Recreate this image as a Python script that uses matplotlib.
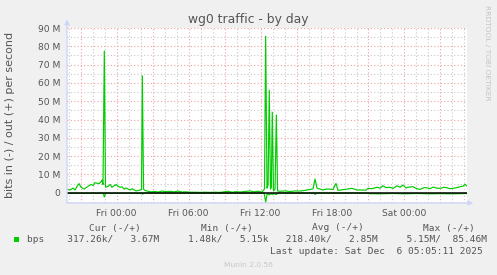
import matplotlib
matplotlib.use("Agg")
import matplotlib.pyplot as plt
from matplotlib.ticker import MultipleLocator, FuncFormatter

# ---- data (hours relative to Fri 00:00, values in Mbit/s) ----
out_hours = [-4.13, -3.88, -3.63, -3.46, -3.29, -3.13, -2.96, -2.71, -2.54, -2.38,
             -2.13, -1.96, -1.79, -1.63, -1.46, -1.29, -1.21, -1.13, -1.02, -0.92,
             -0.71, -0.54, -0.38, -0.21, -0.04, 0.13, 0.29, 0.46, 0.63, 0.79,
             0.96, 1.13, 1.29, 1.46, 1.63, 1.79, 1.96, 2.08, 2.15, 2.25,
             2.38, 2.63, 2.88, 3.21, 3.46, 3.79, 4.13, 4.46, 4.79, 5.13,
             5.46, 5.79, 6.13, 6.54, 6.96, 7.38, 7.79, 8.21, 8.63, 9.29,
             9.63, 9.96, 10.29, 10.71, 11.13, 11.46, 11.79, 12.13, 12.33, 12.43,
             12.54, 12.63, 12.73, 12.83, 12.90, 12.98, 13.08, 13.21, 13.32, 13.42,
             13.63, 14.04, 14.46, 14.88, 15.29, 15.71, 16.13, 16.38, 16.54, 16.71,
             16.96, 17.21, 17.46, 17.79, 18.04, 18.29, 18.46, 18.79, 19.21, 19.63,
             20.04, 20.46, 20.79, 20.96, 21.29, 21.71, 21.96, 22.21, 22.46, 22.79,
             23.04, 23.38, 23.63, 23.88, 24.13, 24.29, 24.71, 24.96, 25.29, 25.63,
             25.88, 26.13, 26.38, 26.71, 26.96, 27.29, 27.54, 27.79, 28.04, 28.38,
             28.63, 28.88, 29.04, 29.21]
out_mbps = [2.0, 1.5, 2.5, 1.5, 3.5, 5.0, 3.0, 2.0, 2.8, 3.5,
            4.5, 4.0, 5.5, 5.2, 5.0, 6.0, 7.0, 4.5, 77.4, 3.0,
            3.5, 4.5, 3.0, 3.8, 4.5, 3.5, 3.0, 3.2, 2.0, 2.6,
            2.0, 1.5, 2.2, 1.6, 1.0, 1.2, 1.5, 1.8, 63.9, 2.0,
            1.2, 0.8, 0.5, 0.7, 0.4, 0.9, 0.6, 0.8, 0.5, 0.9,
            0.4, 0.5, 0.3, 0.3, 0.2, 0.3, 0.2, 0.3, 0.2, 0.8,
            0.3, 0.6, 0.4, 0.7, 1.0, 0.5, 0.8, 0.4, 2.0, 85.5,
            2.5, 4.0, 56.0, 2.0, 3.0, 44.0, 1.0, 2.0, 42.4, 1.0,
            0.8, 1.0, 0.7, 1.0, 0.9, 1.3, 1.8, 2.2, 7.5, 2.5,
            2.0, 1.5, 2.0, 2.0, 1.8, 5.1, 1.3, 1.6, 2.0, 2.4,
            1.5, 1.5, 1.4, 2.4, 2.2, 3.0, 2.5, 3.8, 2.8, 3.0,
            2.4, 3.8, 3.0, 4.2, 2.6, 3.0, 3.3, 2.4, 1.8, 2.8,
            2.7, 2.2, 3.1, 2.5, 2.4, 3.0, 2.7, 2.2, 2.4, 2.8,
            3.3, 3.6, 4.6, 3.7]

in_hours = [-4.13, -2.0, -1.10, -1.02, -0.92, 2.10, 2.15, 2.30, 12.30, 12.43,
            12.55, 12.73, 12.85, 12.98, 13.10, 13.32, 13.45, 16.50, 16.54, 16.70,
            20.90, 21.00, 22.0, 23.0, 24.0, 25.0, 26.0, 27.0, 28.0, 29.21]
in_mbps = [0.3, 0.3, 0.3, 2.3, 0.3, 0.3, 0.8, 0.2, 0.2, 5.15,
           0.5, 1.2, 0.4, 1.0, 0.5, 1.0, 0.2, 0.2, 0.9, 0.2,
           0.2, 0.5, 0.6, 0.4, 0.6, 0.4, 0.6, 0.5, 0.6, 0.4]

x_tick_hours = [0, 6, 12, 18, 24]
x_tick_labels = ["Fri 00:00", "Fri 06:00", "Fri 12:00", "Fri 18:00", "Sat 00:00"]

legend_name = "bps"
cur_vals = ("317.26k", "3.67M")
min_vals = ("1.48k", "5.15k")
avg_vals = ("218.40k", "2.85M")
max_vals = ("5.15M", "85.46M")
last_update = "Last update: Sat Dec  6 05:05:11 2025"

# ---- style ----
W, H = 497, 275
BG = "#F0F0F0"
FONT = "#555555"
GREEN = "#00CC00"
AXIS = "#CFD6F8"

fig = plt.figure(figsize=(W / 100, H / 100), dpi=100, facecolor=BG)
ax = fig.add_axes([67 / W, 1 - 203 / H, 400 / W, 175 / H])
ax.set_facecolor("white")

M = 1e6
ax.plot(in_hours, [-v * M for v in in_mbps], color=GREEN, lw=0.85, zorder=3)
ax.plot(out_hours, [v * M for v in out_mbps], color=GREEN, lw=0.85, zorder=4)
ax.axhline(0, color="black", lw=1.1, zorder=5)

ax.set_xlim(-4.13, 29.21)
ax.set_ylim(-5.6e6, 90e6)

ax.xaxis.set_major_locator(MultipleLocator(3))
ax.xaxis.set_minor_locator(MultipleLocator(1))
lab = dict(zip(x_tick_hours, x_tick_labels))
ax.xaxis.set_major_formatter(FuncFormatter(lambda v, p: lab.get(int(round(v)), "") if abs(v - round(v)) < 1e-6 else ""))
ax.yaxis.set_major_locator(MultipleLocator(10e6))
ax.yaxis.set_minor_locator(MultipleLocator(5e6))
ax.yaxis.set_major_formatter(FuncFormatter(lambda v, p: "0" if abs(v) < 1 else f"{int(round(v / M))} M"))

ax.grid(which="minor", color="#C8C8C8", lw=0.8, ls=(0, (1, 2)), zorder=1)
ax.grid(which="major", color="#F0A0A0", lw=0.8, ls=(0, (1, 2)), zorder=2)
ax.set_axisbelow(True)

ax.tick_params(which="both", length=0, colors=FONT)
ax.tick_params(axis="x", labelsize=6.6, pad=4.5)
ax.tick_params(axis="y", labelsize=6.6, pad=5)
for s in ax.spines.values():
    s.set_visible(False)

# axes with arrows
ax.annotate("", xy=(0, 1.05), xytext=(0, 0), xycoords="axes fraction",
            arrowprops=dict(arrowstyle="-|>", color=AXIS, lw=1.0, mutation_scale=7, shrinkA=0, shrinkB=0),
            annotation_clip=False, zorder=6)
ax.annotate("", xy=(1.016, 0), xytext=(0, 0), xycoords="axes fraction",
            arrowprops=dict(arrowstyle="-|>", color=AXIS, lw=1.0, mutation_scale=7, shrinkA=0, shrinkB=0),
            annotation_clip=False, zorder=6)

def px(x, y):
    return x / W, 1 - y / H

fig.text(*px(248, 20), "wg0 traffic - by day", ha="center", va="center", fontsize=8.95, color=FONT)
fig.text(*px(10.5, 114.5), "bits in (-) / out (+) per second", ha="center", va="center",
         rotation=90, fontsize=8.0, color=FONT)
fig.text(*px(487, 53), "RRDTOOL / TOBI OETIKER", ha="center", va="center", rotation=270,
         fontsize=5.4, color="#C4C4C4")

mono = dict(family="DejaVu Sans Mono", fontsize=6.8, color=FONT, va="center", ha="left")
fig.text(*px(89, 228), "Cur (-/+)", **mono)
fig.text(*px(200.7, 228), "Min (-/+)", **mono)
fig.text(*px(312.3, 228), "Avg (-/+)", **mono)
fig.text(*px(423, 228), "Max (-/+)", **mono)

row = (f"{legend_name}    {cur_vals[0]}/{cur_vals[1]:>8}     {min_vals[0]}/{min_vals[1]:>8}"
       f"   {avg_vals[0]}/{avg_vals[1]:>8}     {max_vals[0]}/{max_vals[1]:>8}")
fig.text(*px(26.7, 239.5), row, **mono)
fig.patches.append(plt.Rectangle(px(14, 242), 5.3 / W, 5 / H, transform=fig.transFigure,
                                 facecolor=GREEN, edgecolor="none"))
fig.text(*px(482.7, 251), last_update, **{**mono, "ha": "right"})
fig.text(*px(248, 265), "Munin 2.0.56", ha="center", va="center", fontsize=5.4, color="#C8C8C8")

fig.savefig("out.png", dpi=100, facecolor=BG)
